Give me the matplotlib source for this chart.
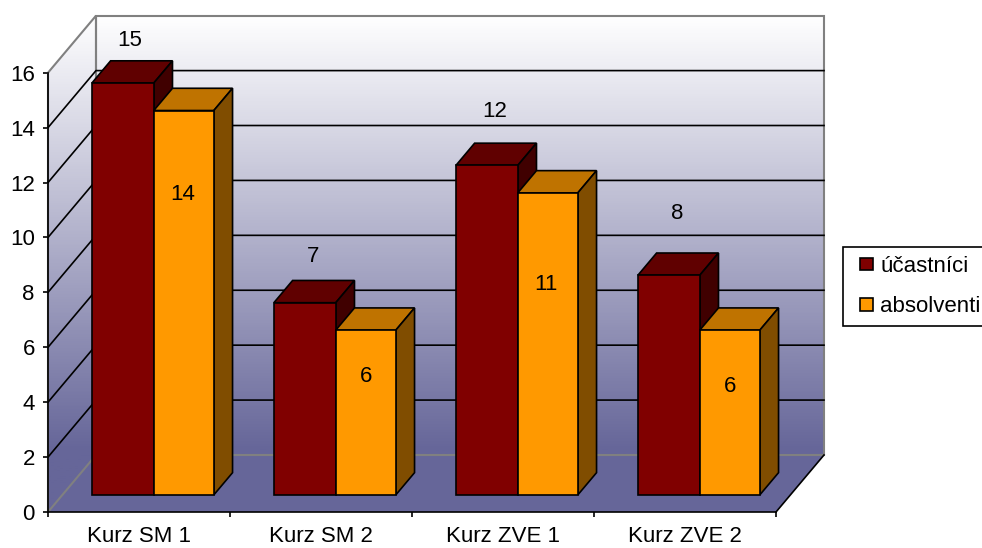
import numpy as np
import matplotlib
matplotlib.use("Agg")
import matplotlib.pyplot as plt
from matplotlib.colors import LinearSegmentedColormap
from matplotlib.legend_handler import HandlerPatch
from matplotlib.patches import Patch, Polygon, Rectangle

plt.rcParams["font.family"] = ["Liberation Sans", "DejaVu Sans"]

categories = ["Kurz SM 1", "Kurz SM 2", "Kurz ZVE 1", "Kurz ZVE 2"]
ucastnici = [15, 7, 12, 8]
absolventi = [14, 6, 11, 6]
y_ticks = [0, 2, 4, 6, 8, 10, 12, 14, 16]

# label offsets from the middle of the bar's top front edge, in pixels
label_off_u = [(7, 43), (8, 46), (8, 54), (8, 62)]
label_off_a = [(-1, -84), (0, -46), (-2, -92), (0, -56)]

W, H = 982, 548
LEFT, RIGHT, TOP, BOTTOM = 48, 776, 72.7, 512
DX = 48 / 182          # depth -> x units
DY = 57 / 27.45        # depth -> y units
BAR_W_U = 0.34
BAR_W_A = 0.33
BAR_X0 = 0.162
Z0, Z1 = 0.30, 0.69
FS = 16


def proj(x, y, z):
    return x + z * DX, y + z * DY


def bar3d(ax, x, w, val, front, top, side):
    """Front, top and side faces of one bar."""
    x1 = x + w
    faces = [
        ([(x, val, Z0), (x, val, Z1), (x1, val, Z1), (x1, val, Z0)], top),
        ([(x1, 0, Z0), (x1, 0, Z1), (x1, val, Z1), (x1, val, Z0)], side),
        ([(x, 0, Z0), (x1, 0, Z0), (x1, val, Z0), (x, val, Z0)], front),
    ]
    for pts, c in faces:
        ax.add_patch(Polygon([proj(*p) for p in pts], closed=True, facecolor=c,
                             edgecolor="k", lw=1.2, joinstyle="miter",
                             clip_on=False, zorder=5))


def legend_square(legend, orig_handle, xdescent, ydescent, width, height, fontsize):
    # small square pushed to the right inside the handle box
    side = 9.2
    return Rectangle((width - side - xdescent, (height - side) / 2 - ydescent), side, side)


fig = plt.figure(figsize=(W / 100, H / 100), dpi=100)
ax = fig.add_axes([LEFT / W, 1 - BOTTOM / H, (RIGHT - LEFT) / W, (BOTTOM - TOP) / H])

# walls with the vertical gradient, floor in flat colour
cmap = LinearSegmentedColormap.from_list("wall", ["#ffffff", "#666699"])
wall = [proj(0, 0, 0), proj(0, 16, 0), proj(0, 16, 1), proj(4, 16, 1), proj(4, 0, 1), proj(0, 0, 1)]
clip = Polygon(wall, closed=True, transform=ax.transData, fill=False, lw=0)
ymax_w = proj(0, 16, 1)[1]
# gradient stops a little above the floor line, flat colour below it
grad = np.clip(np.linspace(0, 1.14, 256), 0, 1).reshape(-1, 1)
im = ax.imshow(grad, cmap=cmap, aspect="auto", origin="upper",
               extent=(0, 4 + DX, 0, ymax_w), zorder=0)
ax.add_patch(clip)
im.set_clip_path(clip)
im.set_clip_box(fig.bbox)
clip.set_clip_on(False)
floor = [proj(0, 0, 0), proj(4, 0, 0), proj(4, 0, 1), proj(0, 0, 1)]
ax.add_patch(Polygon(floor, closed=True, facecolor="#666699", edgecolor="none", clip_on=False, zorder=1))
ax.add_patch(Polygon([proj(0, 0, 0), proj(0, 0, 1), proj(0, 16, 1), proj(0, 16, 0)], closed=True, fill=False,
                     edgecolor="#808080", lw=1.5, clip_on=False, zorder=2))
ax.add_patch(Polygon([proj(0, 0, 1), proj(0, 16, 1), proj(4, 16, 1), proj(4, 0, 1)], closed=True, fill=False,
                     edgecolor="#808080", lw=1.5, clip_on=False, zorder=2))

# gridlines on side and back wall
for v in y_ticks[1:-1]:
    xs, ys = zip(proj(0, v, 0), proj(0, v, 1), proj(4, v, 1))
    ax.plot(xs, ys, color="k", lw=1.2, clip_on=False, zorder=3)
xs, ys = zip(proj(4, 0, 0), proj(4, 0, 1))
ax.plot(xs, ys, color="k", lw=1.2, clip_on=False, zorder=3)

# bars + labels
for i, (u, a) in enumerate(zip(ucastnici, absolventi)):
    x = i + BAR_X0
    bar3d(ax, x, BAR_W_U, u, "#800000", "#600000", "#400000")
    bar3d(ax, x + BAR_W_U, BAR_W_A, a, "#FF9900", "#BF7300", "#804D00")
    ax.annotate(str(u), proj(x + BAR_W_U / 2, u, Z0), xytext=label_off_u[i], textcoords="offset pixels",
                ha="center", va="center", fontsize=FS, annotation_clip=False, zorder=6)
    ax.annotate(str(a), proj(x + BAR_W_U + BAR_W_A / 2, a, Z0), xytext=label_off_a[i], textcoords="offset pixels",
                ha="center", va="center", fontsize=FS, annotation_clip=False, zorder=6)

ax.set_xlim(0, 4)
ax.set_ylim(0, 16)
ax.patch.set_visible(False)
for s in ["top", "right"]:
    ax.spines[s].set_visible(False)
for s in ["left", "bottom"]:
    ax.spines[s].set_linewidth(1.2)
    ax.spines[s].set_zorder(4)
ax.set_yticks(y_ticks)
ax.tick_params(axis="y", length=3.5, width=1.2, labelsize=FS, pad=6)
ax.set_xticks(range(5))
ax.set_xticklabels([])
ax.set_xticks(np.arange(len(categories)) + 0.5, categories, minor=True)
ax.tick_params(axis="x", which="major", length=3.5, width=1.2)
ax.tick_params(axis="x", which="minor", length=0, labelsize=FS, pad=10)

handles = [Patch(facecolor="#800000", edgecolor="k", lw=1.2),
           Patch(facecolor="#FF9900", edgecolor="k", lw=1.2)]
leg = fig.legend(handles, ["účastníci", "absolventi"], loc="upper left",
                 bbox_to_anchor=(843 / W, 1 - 246.5 / H), bbox_transform=fig.transFigure,
                 fontsize=FS, fancybox=False, edgecolor="k", framealpha=1,
                 handler_map={Patch: HandlerPatch(patch_func=legend_square)},
                 handlelength=0.92, handleheight=0.6, handletextpad=0.33,
                 borderaxespad=0, borderpad=0.42, labelspacing=0.86)
leg.get_frame().set_linewidth(1.2)

fig.savefig("out.png", dpi=100)
